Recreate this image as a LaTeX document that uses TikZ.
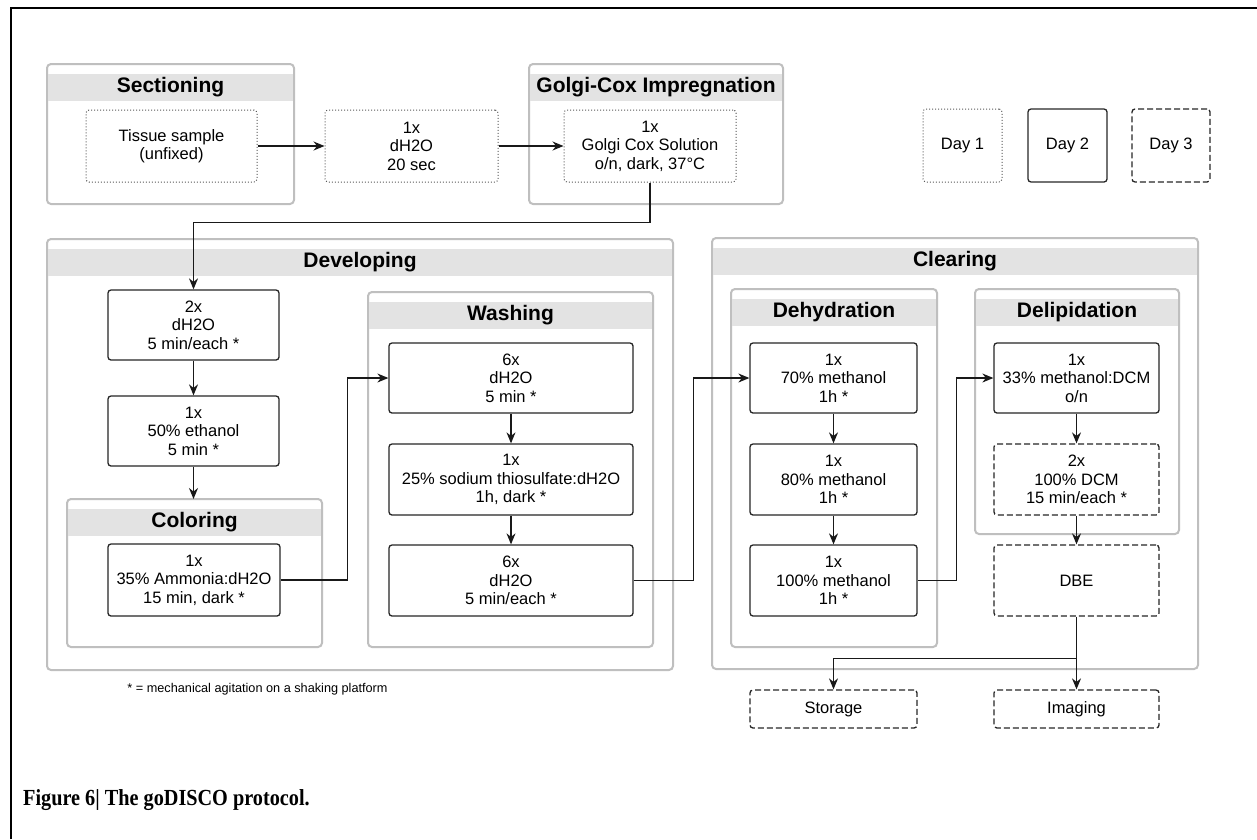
\documentclass[tikz,border=0pt]{standalone}
\usepackage{fontspec}
\setmainfont{Liberation Sans}
\newfontfamily\capfont[FakeStretch=0.88]{Liberation Serif}
\usetikzlibrary{arrows.meta}

\begin{document}
\begin{tikzpicture}[x=1pt,y=-1pt,
  grp/.style={draw=black!25,line width=2pt,rounded corners=4pt,fill=white,inner sep=0pt,outer sep=0pt},
  band/.style={fill=black!11},
  ttl/.style={font=\fontsize{21}{24}\selectfont\bfseries},
  stepbox/.style={draw=black!85,line width=1.3pt,rounded corners=3pt,align=center,inner sep=0pt,
    font=\fontsize{16.5}{18.5}\selectfont},
  dotbox/.style={stepbox,draw=black!65,line width=1pt,dotted},
  dashbox/.style={stepbox,dash pattern=on 6pt off 3pt},
  flow/.style={-{Stealth[length=11pt,width=9pt]},line width=1.3pt,draw=black!90}]
 \useasboundingbox (0,0) rectangle (1257,839);
 \draw[line width=2.5pt] (11,839) -- (11,8) -- (1257,8);

 % groups: name / left / top / right / bottom / title
 \foreach \n/\xl/\yt/\xr/\yb/\s in
  {
    sec/47/64/294/204/Sectioning, gol/529/64/783/204/Golgi-Cox Impregnation,
    dev/47/239/673/670/Developing, col/67/499/322/647/Coloring,
    was/368/292/653/647/Washing, clr/712/238/1198/669/Clearing,
    deh/731/289/937/647/Dehydration, del/975/289/1179/534/Delipidation
  }
  {
    \node[grp, minimum width=\xr pt-\xl pt, minimum height=\yb pt-\yt pt]
      (\n) at ({(\xl+\xr)/2},{(\yt+\yb)/2}) {};
    \fill[band] ([xshift=1pt,yshift=-10pt]\n.north west)
      rectangle ([xshift=-1pt,yshift=-37pt]\n.north east);
    \node[ttl] (\n-t) at ([yshift=-23.5pt]\n.north) {\s};
  }

 % day 1
 \node[dotbox, minimum width=171pt, minimum height=72pt] (tis) at (171.5,146) {Tissue sample\\(unfixed)};
 \node[dotbox, minimum width=173pt, minimum height=72pt] (rin) at (411.5,146) {1x\\dH2O\\20 sec};
 \node[dotbox, minimum width=172pt, minimum height=72pt] (gcs) at (650,146) {1x\\Golgi Cox Solution\\o/n, dark, 37°C};

 % legend
 \node[dotbox, minimum width=79pt, minimum height=73pt] (day1) at (962.5,145.5) {Day 1};
 \node[stepbox, minimum width=79pt, minimum height=73pt] (day2) at (1067.5,145.5) {Day 2};
 \node[dashbox, minimum width=78pt, minimum height=73pt] (day3) at (1171,145.5) {Day 3};

 % developing
 \node[stepbox, minimum width=171pt, minimum height=70pt] (dw) at (193.5,325) {2x\\dH2O\\5 min/each *};
 \node[stepbox, minimum width=171pt, minimum height=70pt] (eth) at (193.5,431) {1x\\50\% ethanol\\5 min *};
 \node[stepbox, minimum width=172pt, minimum height=72pt] (amm) at (194,580) {1x\\35\% Ammonia:dH2O\\15 min, dark *};
 \node[stepbox, minimum width=244pt, minimum height=70pt] (wa1) at (511,378) {6x\\dH2O\\5 min *};
 \node[stepbox, minimum width=244pt, minimum height=71pt] (wa2) at (511,479.5) {1x\\25\% sodium thiosulfate:dH2O\\1h, dark *};
 \node[stepbox, minimum width=244pt, minimum height=71pt] (wa3) at (511,580.5) {6x\\dH2O\\5 min/each *};

 % clearing
 \node[stepbox, minimum width=167pt, minimum height=70pt] (me70) at (833.5,378) {1x\\70\% methanol\\1h *};
 \node[stepbox, minimum width=167pt, minimum height=71pt] (me80) at (833.5,479.5) {1x\\80\% methanol\\1h *};
 \node[stepbox, minimum width=167pt, minimum height=71pt] (me100) at (833.5,580.5) {1x\\100\% methanol\\1h *};
 \node[stepbox, minimum width=165pt, minimum height=70pt] (dcm) at (1076.5,378) {1x\\33\% methanol:DCM\\o/n};
 \node[dashbox, minimum width=165pt, minimum height=71pt] (dcm2) at (1076.5,479.5) {2x\\100\% DCM\\15 min/each *};
 \node[dashbox, minimum width=165pt, minimum height=71pt] (dbe) at (1076.5,580.5) {DBE};
 \node[dashbox, minimum width=167pt, minimum height=38pt] (sto) at (833.5,709) {Storage};
 \node[dashbox, minimum width=165pt, minimum height=38pt] (img) at (1076.5,709) {Imaging};

 % arrows
 \draw[flow] (tis) -- (rin);
 \draw[flow] (rin) -- (gcs);
 \draw[flow] (gcs.south) -- ++(0,40) -| (dw.north);
 \draw[flow] (dw) -- (eth);
 \draw[flow] (eth) -- (eth.south |- col.north);
 \draw[flow] (amm.east) -- ++(67,0) |- (wa1.west);
 \draw[flow] (wa1) -- (wa2);
 \draw[flow] (wa2) -- (wa3);
 \draw[flow] (wa3.east) -- ++(60,0) |- (me70.west);
 \draw[flow] (me70) -- (me80);
 \draw[flow] (me80) -- (me100);
 \draw[flow] (me100.east) -- ++(39,0) |- (dcm.west);
 \draw[flow] (dcm) -- (dcm2);
 \draw[flow] (dcm2) -- (dbe);
 \coordinate (split) at ([yshift=-42pt]dbe.south);
 \draw[flow] (dbe) -- (img);
 \draw[flow] (split) -| (sto);

 \node[font=\fontsize{12.7}{15}\selectfont] (note) at (257.5,689) {* = mechanical agitation on a shaking platform};
 \node[anchor=west, inner sep=0pt, font=\capfont\bfseries\fontsize{23}{27}\selectfont] (cap) at (23,800) {Figure 6| The goDISCO protocol.};
\end{tikzpicture}
\end{document}
